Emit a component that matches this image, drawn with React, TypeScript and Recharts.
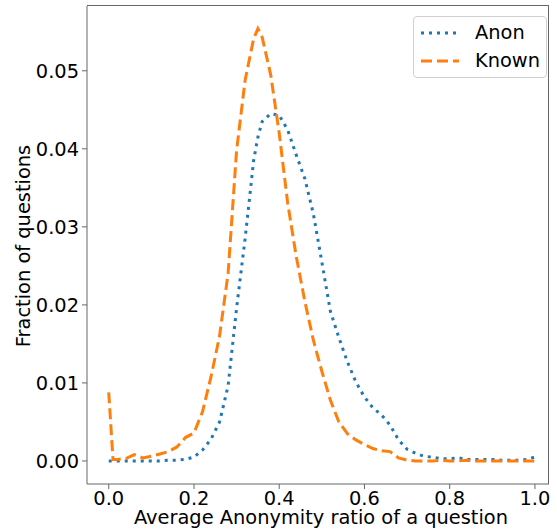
import { LineChart, Line, XAxis, YAxis } from 'recharts';

const FONT = '"DejaVu Sans", sans-serif';
const FS = 19.4;
const AXIS = '#666';

// x positions (anonymity ratio) and the two distributions
const ratio = [
  0, 0.01, 0.02, 0.04, 0.06, 0.08, 0.1, 0.12, 0.14, 0.16, 0.18, 0.2, 0.22, 0.24, 0.26, 0.28,
  0.3, 0.32, 0.34, 0.35, 0.36, 0.38, 0.4, 0.42, 0.44, 0.46, 0.48, 0.5, 0.52, 0.54, 0.56, 0.58,
  0.6, 0.62, 0.64, 0.66, 0.68, 0.7, 0.72, 0.74, 0.76, 0.78, 0.8, 0.82, 0.84, 0.86, 0.88,
  0.9, 0.92, 0.94, 0.96, 0.98, 1.0,
];
const anon = [
  0, 0, 0, 0, 0, 0, 0, 0, 0.0001, 0.0001, 0.0002, 0.0005, 0.0014, 0.0028, 0.005, 0.0096,
  0.0196, 0.0285, 0.0385, 0.0415, 0.0435, 0.0445, 0.0443, 0.0424, 0.0392, 0.0362, 0.0317, 0.0255,
  0.0192, 0.0158, 0.0127, 0.0101, 0.0082, 0.0068, 0.0059, 0.0046, 0.0027, 0.0015, 0.001,
  0.0006, 0.0005, 0.0003, 0.0003, 0.0004, 0.0002, 0.0002, 0.0002, 0.0002, 0.0001, 0.0001,
  0.0001, 0.0002, 0.0005,
];
const known = [
  0.0088, 0.0002, 0.0002, 0.0003, 0.0008, 0.0004, 0.0006, 0.0009, 0.0012, 0.0018, 0.003,
  0.0036, 0.0063, 0.0108, 0.016, 0.024, 0.0398, 0.0488, 0.0541, 0.0554, 0.0543, 0.0495, 0.042,
  0.033, 0.0262, 0.0205, 0.0155, 0.0115, 0.0078, 0.005, 0.0035, 0.0027, 0.0021, 0.0016, 0.0013,
  0.0012, 0.0004, 0.0001, 0, 0, 0, 0.0001, 0, 0, 0.0001, 0, 0, 0, 0, 0, 0, 0, 0,
];
const xTicks = [0, 0.2, 0.4, 0.6, 0.8, 1.0];
const yTicks = [0, 0.01, 0.02, 0.03, 0.04, 0.05];

const rows = ratio.map((r, i) => ({ r, anon: anon[i], known: known[i] }));

const tickStyle = { fontSize: FS, fontFamily: FONT, fill: '#000' };

function LegendBox() {
  return (
    <div
      style={{
        position: 'absolute',
        left: 413,
        top: 16,
        width: 134,
        height: 62,
        border: '1px solid #d0d0d0',
        borderRadius: 4,
        background: 'rgba(255,255,255,0.8)',
        boxSizing: 'border-box',
      }}
    >
      <svg width={132} height={60} style={{ display: 'block' }}>
        <line x1={7} x2={45} y1={16} y2={16} stroke="#1f77b4" strokeWidth={3} strokeDasharray="3 5" />
        <line x1={7} x2={45} y1={44} y2={44} stroke="#ff7f0e" strokeWidth={3} strokeDasharray="11 5" />
        <text x={61} y={22} fontSize={FS} fontFamily={FONT} fill="#000">Anon</text>
        <text x={61} y={50} fontSize={FS} fontFamily={FONT} fill="#000">Known</text>
      </svg>
    </div>
  );
}

export default function App() {
  return (
    <div style={{ position: 'absolute', left: 0, top: 0, width: 557, height: 529, background: '#fff' }}>
      <LineChart width={557} height={529} data={rows} margin={{ top: 6, right: 8, bottom: 0, left: 0 }}>
        <XAxis
          dataKey="r"
          type="number"
          domain={[-0.051, 1.033]}
          ticks={xTicks}
          tickFormatter={(v: number) => v.toFixed(1)}
          tick={tickStyle}
          tickSize={5}
          tickMargin={2}
          stroke={AXIS}
          height={45}
          allowDataOverflow
          label={({ viewBox }: any) => (
            <text
              x={viewBox.x + viewBox.width / 2 + 3}
              y={524}
              textAnchor="middle"
              fontSize={FS}
              fontFamily={FONT}
              fill="#000"
            >
              Average Anonymity ratio of a question
            </text>
          )}
        />
        <YAxis
          type="number"
          domain={[-0.00295, 0.0583]}
          ticks={yTicks}
          tickFormatter={(v: number) => v.toFixed(2)}
          tick={tickStyle}
          tickSize={5}
          tickMargin={3}
          stroke={AXIS}
          width={87}
          allowDataOverflow
          label={() => (
            <text
              x={30}
              y={246}
              transform="rotate(-90, 30, 246)"
              textAnchor="middle"
              fontSize={FS}
              fontFamily={FONT}
              fill="#000"
            >
              Fraction of questions
            </text>
          )}
        />
        <Line
          dataKey="anon"
          type="linear"
          stroke="#1f77b4"
          strokeWidth={3}
          strokeDasharray="3 5"
          dot={false}
          isAnimationActive={false}
        />
        <Line
          dataKey="known"
          type="linear"
          stroke="#ff7f0e"
          strokeWidth={3}
          strokeDasharray="11 5"
          dot={false}
          isAnimationActive={false}
        />
      </LineChart>
      {/* top and right spines of the axes box */}
      <div
        style={{
          position: 'absolute',
          left: 87,
          top: 5,
          width: 462,
          height: 479,
          borderTop: `1px solid ${AXIS}`,
          borderRight: `1px solid ${AXIS}`,
          boxSizing: 'border-box',
          pointerEvents: 'none',
        }}
      />
      <LegendBox />
    </div>
  );
}
